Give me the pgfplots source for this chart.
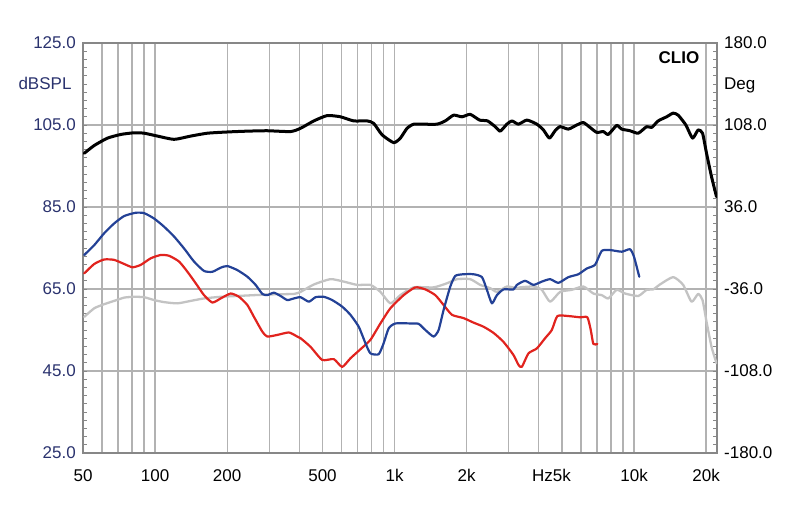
\documentclass[border=0pt]{standalone}
\usepackage{fontspec}
\setmainfont{Liberation Sans}
\usepackage{pgfplots}
\pgfplotsset{compat=1.18}
\definecolor{gridgray}{RGB}{178,178,178}
\definecolor{framegray}{RGB}{135,135,135}
\definecolor{labnavy}{RGB}{42,50,110}
\definecolor{cblue}{RGB}{35,65,150}
\definecolor{cred}{RGB}{225,35,30}
\definecolor{cgray}{RGB}{195,195,195}
\begin{document}
\begin{tikzpicture}
\useasboundingbox (-83pt,-59pt) rectangle (717pt,453pt);
\begin{axis}[
  at={(0pt,0pt)}, anchor=south west,
  scale only axis, width=634pt, height=410pt,
  xmode=log, xmin=50, xmax=22200, ymin=25, ymax=125,
  xtick={50,100,200,500,1000,2000,5000,10000,20000},
  xticklabels={50,100,200,500,1k,2k,\makebox[0pt][r]{Hz}5k,10k,20k},
  minor xtick={60,70,80,90,300,400,600,700,800,900,3000,4000,6000,7000,8000,9000},
  ytick={25,45,65,85,105,125},
  yticklabels={25.0,45.0,65.0,85.0,105.0,125.0},
  minor y tick num=9,
  xmajorgrids, xminorgrids, ymajorgrids,
  major grid style={draw=gridgray, line width=1.3pt},
  minor grid style={draw=gridgray, line width=1.3pt},
  axis line style={draw=framegray, line width=2pt},
  x tick style={draw=none},
  y tick style={draw=framegray, line width=0.9pt},
  major tick length=4pt, minor tick length=4pt,
  tick align=inside,
  font=\fontsize{17}{20}\selectfont,
  xticklabel style={anchor=base, inner sep=0pt, yshift=-28.7pt, text=black},
  yticklabel style={anchor=east, inner sep=0pt, xshift=-7pt, text=labnavy},
  every axis plot/.append style={smooth, tension=0.35, line join=round, line cap=round},
]
\addplot[cgray, line width=2.3pt] coordinates {
(50.6,58.2)(55.7,60.3)(61.3,61.3)(67.5,62.1)(74.3,62.9)(81.8,63.1)(90.0,63.0)(99.0,62.3)(109.0,61.8)(124.0,61.5)(140.9,62.1)(160.1,62.7)(187.9,63.1)(220.6,63.3)(258.7,63.5)(313.4,63.7)(379.8,63.8)(405.0,64.3)(460.1,66.1)(540.1,67.4)(613.5,66.8)(697.7,66.0)(792.8,66.0)(872.6,64.3)(960.5,61.5)(1057.2,63.5)(1201.3,65.4)(1455.6,65.4)(1655.4,66.4)(1822.2,67.4)(2070.3,67.4)(2278.8,66.0)(2508.2,65.2)(2674.8,64.3)(2944.2,65.6)(3240.8,65.2)(3345.2,65.4)(3799.9,65.6)(4119.7,64.8)(4461.3,61.9)(4910.8,64.3)(5495.6,64.8)(6142.7,65.6)(6761.5,63.9)(7329.1,63.5)(7808.5,62.7)(8464.0,64.8)(9165.6,63.9)(10411,63.3)(11286,64.8)(12024,64.9)(12823,66.1)(14566,67.9)(16035,66.0)(17380,61.9)(18517,63.8)(19317,62.3)(20073,57.0)(21061,50.9)(22096,46.9)
};
\addplot[cred, line width=2.2pt] coordinates {
(50.6,68.8)(55.7,71.1)(61.3,72.2)(67.5,72.1)(74.3,71.1)(80.5,70.3)(87.2,70.9)(96.0,72.5)(105.6,73.3)(114.4,73.1)(125.9,71.7)(136.5,69.2)(147.8,66.4)(160.1,63.5)(173.5,61.7)(187.9,62.7)(206.8,63.9)(224.0,63.1)(242.8,61.1)(258.7,58.2)(280.4,54.6)(294.1,53.4)(323.8,53.8)(362.0,54.4)(392.4,53.4)(405.0,53.0)(445.7,50.9)(498.7,47.7)(557.5,47.9)(604.1,46.0)(654.3,48.1)(720.2,50.3)(792.8,52.6)(872.6,56.6)(960.5,60.3)(1091.3,63.5)(1221.0,65.4)(1344.1,64.9)(1479.6,63.5)(1602.2,61.1)(1736.8,58.7)(1941.5,57.9)(2136.9,56.8)(2352.1,55.8)(2588.9,54.3)(2849.7,52.1)(3136.8,48.9)(3291.0,46.5)(3400.2,46.0)(3622.5,49.3)(3926.3,50.5)(4252.2,53.0)(4534.7,55.0)(4785.1,58.4)(5319.2,58.4)(5951.1,58.1)(6383.1,58.1)(6594.8,55.0)(6761.5,51.6)(7026.0,51.6)
};
\addplot[cblue, line width=2.2pt] coordinates {
(50.6,73.3)(55.7,75.7)(61.3,78.6)(67.5,81.0)(74.3,82.8)(83.1,83.6)(90.0,83.5)(99.0,82.2)(109.0,80.2)(120.0,77.8)(132.1,74.9)(145.4,71.7)(160.1,69.4)(173.5,69.2)(187.9,70.2)(200.4,70.6)(220.6,69.6)(242.8,68.0)(262.9,66.0)(280.4,63.8)(294.1,63.5)(313.4,64.1)(334.2,63.3)(356.4,62.3)(379.8,62.7)(405.0,63.0)(438.5,61.9)(467.6,63.0)(506.4,63.1)(549.0,62.3)(604.1,60.7)(654.3,58.7)(708.5,55.8)(755.6,51.8)(792.8,49.3)(858.5,49.1)(900.7,51.8)(945.0,55.4)(1007.7,56.6)(1163.8,56.6)(1260.4,56.5)(1344.1,55.0)(1455.6,53.4)(1527.2,55.0)(1602.2,59.9)(1708.7,65.6)(1792.7,68.2)(1941.5,68.6)(2136.9,68.6)(2316.3,67.9)(2430.1,64.8)(2549.5,61.5)(2674.8,63.5)(2849.7,64.9)(3136.8,64.9)(3240.8,66.0)(3509.6,67.0)(3799.9,66.0)(4119.7,66.8)(4461.3,67.4)(4831.3,66.5)(5319.2,67.9)(5854.8,68.6)(6346.4,70.0)(6872.7,70.9)(7329.1,74.3)(7936.9,74.5)(8880.0,74.1)(9615.9,74.7)(9990,72.9)(10512,68.0)
};
\addplot[black, line width=3pt] coordinates {
(50.6,98.1)(55.7,100.0)(63.3,101.8)(72.0,102.7)(81.8,103.1)(90.0,103.0)(102.3,102.3)(120.0,101.5)(140.9,102.3)(165.4,103.0)(200.4,103.3)(242.8,103.5)(294.1,103.6)(367.9,103.4)(405.0,104.2)(460.1,106.0)(523.3,107.3)(594.4,107.0)(675.3,106.0)(768.0,106.0)(818.3,105.4)(887.0,102.6)(991.4,100.7)(1057.2,101.8)(1127.5,104.2)(1201.3,105.2)(1322.3,105.2)(1503.9,105.2)(1628.6,106.0)(1763.7,107.4)(1911.9,107.0)(2070.3,107.6)(2263.6,106.2)(2444.1,106.0)(2631.5,104.6)(2760.8,103.5)(2944.2,105.2)(3089.0,106.0)(3291.0,105.2)(3567.3,106.2)(3926.3,105.2)(4183.4,103.8)(4431.4,101.8)(4680.7,103.6)(4910.8,104.6)(5319.2,104.0)(5765.5,105.0)(6142.7,105.6)(6550.6,104.4)(6985.7,103.2)(7442.5,103.4)(7808.5,102.7)(8464.0,104.9)(8880.0,104.0)(9615.9,103.6)(10411,103.0)(11286,104.6)(11841,104.4)(12615,106.0)(13674,107.0)(14566,107.9)(15283,107.4)(16456,105.0)(17548,101.8)(18517,103.8)(19317,103.0)(20073,98.1)(21061,92.4)(22096,87.5)
};
\end{axis}
\begin{axis}[
  at={(0pt,0pt)}, anchor=south west,
  scale only axis, width=634pt, height=410pt,
  xmode=log, xmin=50, xmax=22200, ymin=-180, ymax=180,
  hide x axis, axis y line*=right,
  axis line style={draw=none},
  ytick={-180,-108,-36,36,108,180},
  yticklabels={-180.0,-108.0,-36.0,36.0,108.0,180.0},
  major tick length=0pt, minor tick length=0pt,
  font=\fontsize{17}{20}\selectfont,
  yticklabel style={anchor=west, inner sep=0pt, xshift=7pt, text=black},
]
\addplot[draw=none] coordinates {(100,0)};
\end{axis}
\node[anchor=base, inner sep=0pt, text=labnavy, font=\fontsize{17}{20}\selectfont] at (-38pt,363.7pt) {dBSPL};
\node[anchor=base west, inner sep=0pt, font=\fontsize{17}{20}\selectfont] at (641pt,363.7pt) {Deg};
\node[inner sep=0pt, font=\fontsize{17}{20}\selectfont\bfseries] at (596pt,395.5pt) {CLIO};
\end{tikzpicture}
\end{document}
